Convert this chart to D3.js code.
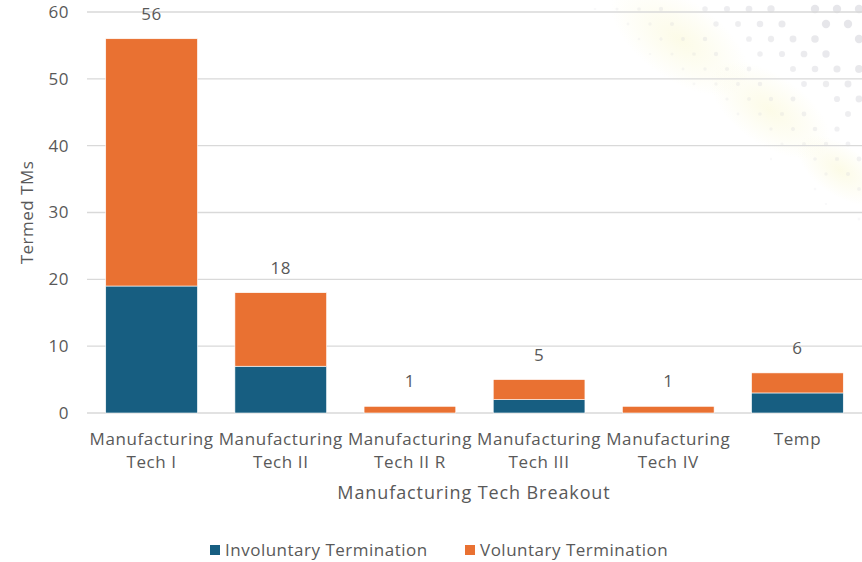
<!DOCTYPE html>
<html>
<head>
<meta charset="utf-8">
<script src="https://cdn.jsdelivr.net/npm/d3@7"></script>
<style>
  body { margin: 0; background: #fff; }
  text { font-family: "Open Sans", "Liberation Sans", sans-serif; fill: #595959; }
</style>
</head>
<body>
<svg class="chart"></svg>
<script>
var categories = ["Manufacturing Tech I", "Manufacturing Tech II", "Manufacturing Tech II R",
                  "Manufacturing Tech III", "Manufacturing Tech IV", "Temp"];
var involuntary = [19, 7, 0, 2, 0, 3];
var voluntary = [37, 11, 1, 3, 1, 3];
var seriesNames = ["Involuntary Termination", "Voluntary Termination"];
var yTicks = [0, 10, 20, 30, 40, 50, 60];

var drawChart = function()
{
  var screen = { width: 862, height: 562 };
  var margins = { left: 87, top: 12, bottom: 149, right: 0 };
  var colors = ["#175e81", "#e97132"];

  var svg = d3.select(".chart")
              .attr("width", screen.width)
              .attr("height", screen.height);

  // faint decorative pattern, top right
  var defs = svg.append("defs");
  var grad = defs.append("radialGradient").attr("id", "glow");
  grad.append("stop").attr("offset", "0%").attr("stop-color", "#f6f2b0").attr("stop-opacity", 0.3);
  grad.append("stop").attr("offset", "100%").attr("stop-color", "#f6f2b0").attr("stop-opacity", 0);
  var deco = svg.append("g").classed("deco", true);
  [[680, 40, 80], [770, 110, 70], [840, 170, 50]].forEach(function(c) {
    deco.append("ellipse").attr("cx", c[0]).attr("cy", c[1]).attr("rx", c[2]).attr("ry", c[2] * 0.5)
        .attr("transform", "rotate(35," + c[0] + "," + c[1] + ")")
        .attr("fill", "url(#glow)");
  });
  var dots = [];
  for (var r = 0; r < 16; r++) {
    for (var c = 0; c < 16; c++) {
      var x = 540 + c * 22 + (r % 2) * 11;
      var y = -6 + r * 15;
      var d = (x - 560) - y * 1.2;
      if (d > 20 && x < 870 && ((r * 7 + c * 3) % 5) != 0) dots.push([x, y, Math.min(1, (d - 20) / 220)]);
    }
  }
  deco.selectAll("circle").data(dots).enter().append("circle")
      .attr("cx", function(d) { return d[0]; })
      .attr("cy", function(d) { return d[1]; })
      .attr("r", function(d) { return 1.2 + d[2] * 3; })
      .attr("fill", "#cfcfd6")
      .attr("opacity", function(d) { return 0.12 + d[2] * 0.4; });

  var height = screen.height - margins.bottom;

  var xScale = d3.scaleBand()
                 .domain(categories)
                 .range([margins.left, screen.width - margins.right])
                 .paddingInner(0.29)
                 .paddingOuter(0.145);

  var yScale = d3.scaleLinear()
                 .domain([0, 60])
                 .range([height, margins.top]);

  // gridlines
  svg.append("g")
     .classed("grid", true)
     .selectAll("line")
     .data(yTicks)
     .enter()
     .append("line")
     .attr("x1", margins.left)
     .attr("x2", screen.width)
     .attr("y1", function(d) { return yScale(d); })
     .attr("y2", function(d) { return yScale(d); })
     .attr("stroke", "#d9d9d9")
     .attr("stroke-width", 1.3);

  var table = categories.map(function(c, i) {
    return { cat: c, involuntary: involuntary[i], voluntary: voluntary[i] };
  });
  var stack = d3.stack().keys(["involuntary", "voluntary"])(table);

  svg.append("g")
     .classed("bars", true)
     .selectAll("g")
     .data(stack)
     .enter()
     .append("g")
     .attr("fill", function(d, i) { return colors[i]; })
     .selectAll("rect")
     .data(function(d) { return d; })
     .enter()
     .append("rect")
     .attr("x", function(d) { return xScale(d.data.cat); })
     .attr("y", function(d) { return yScale(d[1]); })
     .attr("width", xScale.bandwidth())
     .attr("height", function(d) { return yScale(d[0]) - yScale(d[1]); })
     .attr("stroke", "#fff")
     .attr("stroke-width", 0.6);

  // totals above bars
  svg.append("g")
     .classed("totals", true)
     .selectAll("text")
     .data(table)
     .enter()
     .append("text")
     .attr("x", function(d) { return xScale(d.cat) + xScale.bandwidth() / 2; })
     .attr("y", function(d) { return yScale(d.involuntary + d.voluntary) - 19; })
     .attr("text-anchor", "middle")
     .style("font-size", "17px")
     .style("letter-spacing", "0.5px")
     .text(function(d) { return d.involuntary + d.voluntary; });

  // y-axis
  var yAxis = d3.axisLeft(yScale).tickValues(yTicks).tickSize(0).tickPadding(18);
  var ya = svg.append("g")
     .classed("yAxis", true)
     .attr("transform", "translate(" + margins.left + ",0)")
     .call(yAxis);
  ya.select(".domain").remove();
  ya.selectAll("text").style("font-size", "17px").style("letter-spacing", "0.5px").attr("fill", "#595959");

  // x-axis
  var xAxis = d3.axisBottom(xScale).tickSize(0).tickFormat("");
  var xa = svg.append("g")
     .classed("xAxis", true)
     .attr("transform", "translate(0," + height + ")")
     .call(xAxis);
  xa.select(".domain").remove();
  xa.selectAll(".tick")
    .append("text")
    .attr("text-anchor", "middle")
    .style("font-size", "17px")
    .style("letter-spacing", "0.6px")
    .each(function(d) {
      var parts = d.indexOf("Manufacturing ") == 0 ? ["Manufacturing", d.slice(14)] : [d];
      var t = d3.select(this);
      parts.forEach(function(p, i) {
        t.append("tspan").attr("x", 0).attr("y", 32 + i * 23).text(p);
      });
    });

  // axis titles
  svg.append("text")
     .attr("x", 474)
     .attr("y", 499)
     .attr("text-anchor", "middle")
     .style("font-size", "18px")
     .style("letter-spacing", "0.9px")
     .text("Manufacturing Tech Breakout");

  svg.append("text")
     .attr("transform", "translate(33," + (height + margins.top) / 2 + ") rotate(-90)")
     .attr("text-anchor", "middle")
     .style("font-size", "17px")
     .style("letter-spacing", "0.5px")
     .text("Termed TMs");

  // legend
  var legend = svg.append("g").classed("legend", true);
  var legendX = [210, 465];
  seriesNames.forEach(function(name, i) {
    legend.append("rect")
          .attr("x", legendX[i])
          .attr("y", 545)
          .attr("width", 10)
          .attr("height", 10)
          .attr("fill", colors[i]);
    legend.append("text")
          .attr("x", legendX[i] + 15)
          .attr("y", 556)
          .style("font-size", "17px")
          .style("letter-spacing", "0.5px")
          .text(name);
  });
}

drawChart();
</script>
</body>
</html>
